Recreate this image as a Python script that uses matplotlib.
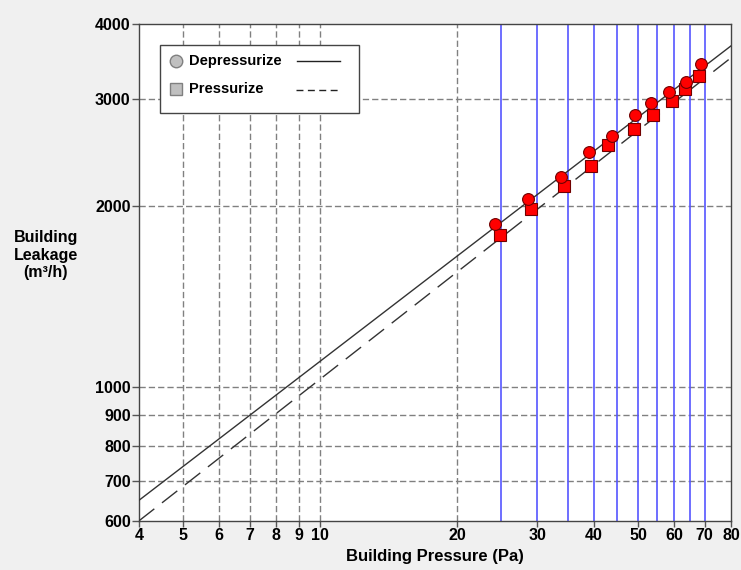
import numpy as np
import matplotlib
matplotlib.use("Agg")
import matplotlib.pyplot as plt
from matplotlib.lines import Line2D
from matplotlib.patches import Rectangle
from matplotlib.ticker import FixedLocator, NullLocator

plt.rcParams['font.family'] = ['Liberation Sans', 'DejaVu Sans']
plt.rcParams['font.weight'] = 'bold'

# Data
dep_x = [24.2, 28.7, 33.8, 39.0, 43.7, 49.2, 53.5, 58.4, 63.7, 68.7]
dep_y = [1866, 2049, 2233, 2454, 2609, 2821, 2957, 3080, 3200, 3433]
pre_x = [24.9, 29.1, 34.3, 39.4, 43.0, 49.0, 54.0, 59.4, 63.4, 68.2]
pre_y = [1786, 1976, 2153, 2330, 2524, 2677, 2825, 2983, 3120, 3281]
dep_C, dep_n = 291.0, 0.579
pre_C, pre_n = 265.0, 0.590
blue_x = [25, 30, 35, 40, 45, 50, 55, 60, 65, 70]
grid_x = [5, 6, 7, 8, 9, 10, 20]
grid_y = [700, 800, 900, 1000, 2000, 3000]
xticks = [4, 5, 6, 7, 8, 9, 10, 20, 30, 40, 50, 60, 70, 80]
yticks = [600, 700, 800, 900, 1000, 2000, 3000, 4000]

fig = plt.figure(figsize=(7.41, 5.70), dpi=100, facecolor='#f0f0f0')
ax = fig.add_axes([139/741, 1-521/570, (731-139)/741, (521-24)/570])
ax.set_facecolor('white')
ax.set_xscale('log')
ax.set_yscale('log')
ax.set_xlim(4, 80)
ax.set_ylim(600, 4000)

for gx in grid_x:
    ax.axvline(gx, color='#808080', lw=1, dashes=(4.5, 2.2), zorder=1)
for gy in grid_y:
    ax.axhline(gy, color='#808080', lw=1, dashes=(4.5, 2.2), zorder=1)
for bx in blue_x:
    ax.axvline(bx, color='#5555ff', lw=1.2, zorder=2)

xs = np.geomspace(4, 80, 200)
ax.plot(xs, dep_C * xs ** dep_n, color='#333333', lw=1, zorder=3)
ax.plot(xs, pre_C * xs ** pre_n, color='#333333', lw=1, dashes=(14, 7), zorder=3)

ax.plot(dep_x, dep_y, 'o', ms=8.5, mfc='#ff0000', mec='#700000', mew=0.8, ls='none', zorder=5)
ax.plot(pre_x, pre_y, 's', ms=8, mfc='#ff0000', mec='#700000', mew=0.8, ls='none', zorder=4)

ax.xaxis.set_major_locator(FixedLocator(xticks))
ax.xaxis.set_minor_locator(NullLocator())
ax.yaxis.set_major_locator(FixedLocator(yticks))
ax.yaxis.set_minor_locator(NullLocator())
ax.set_xticklabels([str(v) for v in xticks])
ax.set_yticklabels([str(v) for v in yticks])
ax.tick_params(axis='x', direction='out', length=4, width=1, color='#555555',
               labelsize=11.5, pad=1)
ax.tick_params(axis='y', direction='out', length=5, width=1, color='#555555',
               labelsize=11.5, pad=1)
for lab in ax.get_xticklabels() + ax.get_yticklabels():
    lab.set_fontweight('bold')
for sp in ax.spines.values():
    sp.set_color('#444444')
    sp.set_linewidth(1)

ax.set_xlabel('Building Pressure (Pa)', fontsize=12, fontweight='bold', labelpad=4)
fig.text(46/741, 1-255/570, 'Building\nLeakage\n(m³/h)', ha='center', va='center',
         fontsize=11.5, fontweight='bold', linespacing=1.2)

# Legend (manual layout)
def fx(px):
    return (px - 139) / 592
def fy(py):
    return (521 - py) / 497

ax.add_patch(Rectangle((fx(160), fy(113)), fx(359) - fx(160), fy(45) - fy(113),
                       transform=ax.transAxes, facecolor='white', edgecolor='#444444',
                       lw=1, zorder=10))
ax.add_line(Line2D([fx(176)], [fy(61)], marker='o', ms=9, mfc='#c0c0c0', mec='#808080',
                   transform=ax.transAxes, zorder=11))
ax.add_line(Line2D([fx(176)], [fy(89)], marker='s', ms=8.5, mfc='#c0c0c0', mec='#808080',
                   transform=ax.transAxes, zorder=11))
ax.text(fx(189), fy(61), 'Depressurize', transform=ax.transAxes, fontsize=10.5,
        fontweight='bold', va='center', ha='left', zorder=11)
ax.text(fx(189), fy(89), 'Pressurize', transform=ax.transAxes, fontsize=10.5,
        fontweight='bold', va='center', ha='left', zorder=11)
ax.add_line(Line2D([fx(297), fx(340)], [fy(61), fy(61)], color='#222222', lw=1,
                   transform=ax.transAxes, zorder=11))
ax.add_line(Line2D([fx(296), fx(341)], [fy(90), fy(90)], color='#222222', lw=1,
                   dashes=(5, 3.2), transform=ax.transAxes, zorder=11))

fig.savefig('out.png', dpi=100, facecolor=fig.get_facecolor())
